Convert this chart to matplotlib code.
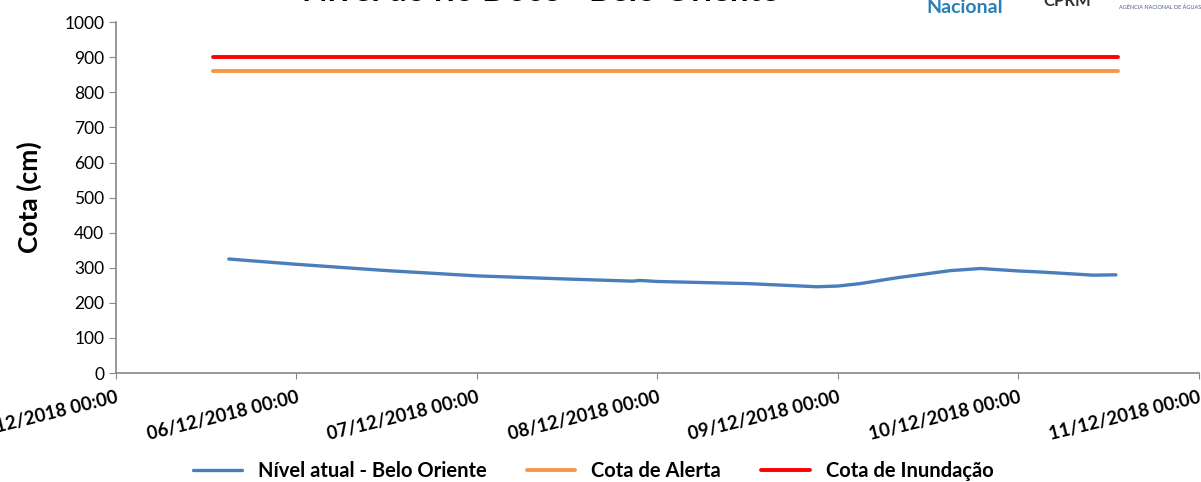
import pandas as pd
import matplotlib.pyplot as plt
import matplotlib.dates as mdates

plt.rcParams['font.family'] = ['Lato', 'DejaVu Sans']

# leituras do nivel (cm)
horas = [15, 24, 36, 48, 60, 68.7, 69.7, 72, 84, 93.2, 96, 99, 104, 111, 115, 120, 123, 130, 133]
nivel = [325, 310, 292, 277, 268, 262, 264, 261, 255, 246, 248, 255, 272, 292, 298, 291, 288, 279, 280]
inicio = pd.Timestamp('2018-12-05 00:00')
tempos = [inicio + pd.Timedelta(hours=h) for h in horas]

# cotas de referencia
cota_t = [inicio + pd.Timedelta(hours=12.9), inicio + pd.Timedelta(hours=133.3)]
cota_alerta = [860, 860]
cota_inundacao = [900, 900]

fig = plt.figure(figsize=(12.01, 4.82), dpi=100)
ax = fig.add_axes([0.0966, 0.226, 0.9014, 0.728])

ax.plot(tempos, nivel, color='#4a7ebb', lw=2.4, solid_capstyle='round', label='Nível atual - Belo Oriente')
ax.plot(cota_t, cota_alerta, color='#f79646', lw=2.8, solid_capstyle='round', label='Cota de Alerta')
ax.plot(cota_t, cota_inundacao, color='#ff0000', lw=2.8, solid_capstyle='round', label='Cota de Inundação')

ax.set_xlim(pd.Timestamp('2018-12-05'), pd.Timestamp('2018-12-11'))
ax.set_ylim(0, 1000)
ax.set_yticks(range(0, 1001, 100))
ax.xaxis.set_major_locator(mdates.DayLocator())
ax.xaxis.set_major_formatter(mdates.DateFormatter('%d/%m/%Y %H:%M'))
for lbl in ax.get_xticklabels():
    lbl.set_rotation(14)
    lbl.set_ha('right')
    lbl.set_rotation_mode('anchor')
    lbl.set_fontweight('bold')
    lbl.set_fontsize(13.3)
ax.tick_params(axis='y', labelsize=12.5, length=5, color='#888888')
ax.tick_params(axis='x', length=4, color='#888888', pad=7)

for s in ['top', 'right']:
    ax.spines[s].set_visible(False)
for s in ['left', 'bottom']:
    ax.spines[s].set_color('#888888')
    ax.spines[s].set_linewidth(1.2)

ax.set_ylabel('Cota (cm)', fontsize=19, fontweight='bold', labelpad=16)

fig.text(0.45, 0.998, 'Nível do rio Doce - Belo Oriente', ha='center', va='baseline',
         fontsize=24, fontweight='bold')
fig.text(0.803, 0.973, 'Nacional', ha='center', va='baseline', fontsize=14, fontweight='bold', color='#2a7fb8')
fig.text(0.889, 0.988, 'CPRM', ha='center', va='baseline', fontsize=12, fontweight='bold', color='#333333')
fig.text(0.932, 0.982, 'AGÊNCIA NACIONAL DE ÁGUAS', ha='left', va='baseline', fontsize=4, color='#4a5a80')

fig.legend(loc='lower center', bbox_to_anchor=(0.494, -0.036), ncol=3, frameon=False,
           prop={'weight': 'bold', 'size': 14.5}, handlelength=2.4, columnspacing=2.0)

fig.savefig('out.png', dpi=100)
